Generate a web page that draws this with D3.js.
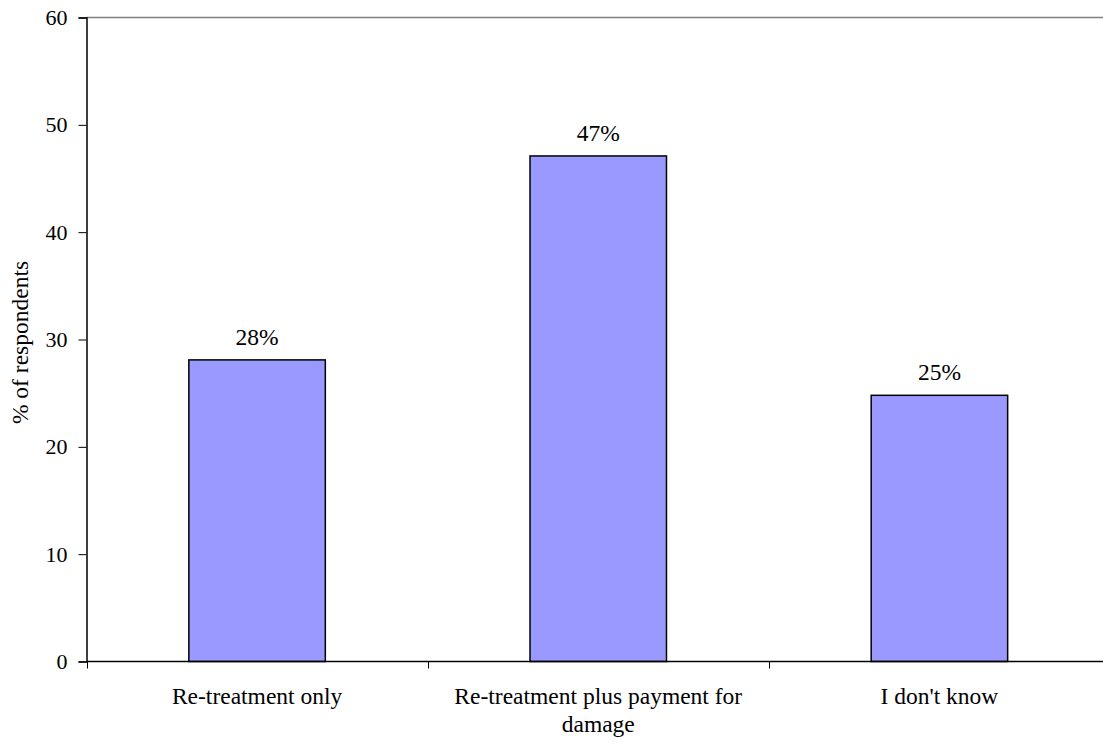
<!DOCTYPE html>
<html>
<head>
<meta charset="utf-8">
<script src="https://cdn.jsdelivr.net/npm/d3@7"></script>
<style>
  html, body { margin: 0; padding: 0; background: #fff; }
  svg text { font-family: "Liberation Serif", "Times New Roman", serif; fill: #000; }
</style>
</head>
<body>
<svg id="chart" width="1103" height="744" font-family="Liberation Serif, Times New Roman, serif"></svg>
<script>
// Survey answers and shares of respondents (%)
const categories = ["Re-treatment only", "Re-treatment plus payment for damage", "I don't know"];
const categoryLines = [["Re-treatment only"], ["Re-treatment plus payment for", "damage"], ["I don't know"]];
const values = [28.1, 47.1, 24.8];
const yTicks = [0, 10, 20, 30, 40, 50, 60];

const svg = d3.select("#chart");
const margin = { left: 86.5, top: 17.5, bottom: 661.5, right: 1110 };
const fontSize = 23.5;

const x = d3.scaleBand()
  .domain(categories)
  .range([margin.left, margin.right])
  .paddingInner(0.6)
  .paddingOuter(0.3);

const y = d3.scaleLinear().domain([0, 60]).range([margin.bottom, margin.top]);

// Plot frame top edge
svg.append("line")
  .attr("x1", margin.left).attr("x2", margin.right)
  .attr("y1", y(60)).attr("y2", y(60))
  .attr("stroke", "#808080").attr("stroke-width", 1.5);

// Bars
svg.selectAll("rect.bar")
  .data(values)
  .join("rect")
  .attr("class", "bar")
  .attr("x", (d, i) => x(categories[i]))
  .attr("width", x.bandwidth())
  .attr("y", d => y(d))
  .attr("height", d => y(0) - y(d))
  .attr("fill", "#9999FF")
  .attr("stroke", "#000")
  .attr("stroke-width", 1.5);

// Value labels
svg.selectAll("text.val")
  .data(values)
  .join("text")
  .attr("class", "val")
  .attr("x", (d, i) => x(categories[i]) + x.bandwidth() / 2)
  .attr("y", d => y(d) - 15)
  .attr("text-anchor", "middle")
  .attr("font-size", fontSize)
  .text(d => Math.round(d) + "%");

// Y axis
const yAxis = d3.axisLeft(y).tickValues(yTicks).tickSize(8).tickPadding(11);
const gy = svg.append("g").attr("transform", `translate(${margin.left},0)`).call(yAxis);
gy.attr("font-size", 22).attr("font-family", "Liberation Serif, Times New Roman, serif");
gy.select(".domain").attr("stroke", "#000").attr("stroke-width", 1.5);
gy.selectAll(".tick line").attr("stroke", "#000");
gy.selectAll(".tick text").attr("fill", "#000");

// X axis baseline with ticks at category boundaries
svg.append("line")
  .attr("x1", margin.left).attr("x2", margin.right)
  .attr("y1", y(0)).attr("y2", y(0))
  .attr("stroke", "#000").attr("stroke-width", 1.5);

const step = x.step();
const boundaries = d3.range(categories.length + 1).map(i => margin.left + i * step);
svg.selectAll("line.xtick")
  .data(boundaries)
  .join("line")
  .attr("class", "xtick")
  .attr("x1", d => Math.round(d) + 0.5).attr("x2", d => Math.round(d) + 0.5)
  .attr("y1", y(0)).attr("y2", y(0) + 7)
  .attr("stroke", "#000");

// Category labels
const xl = svg.selectAll("text.cat")
  .data(categoryLines)
  .join("text")
  .attr("class", "cat")
  .attr("text-anchor", "middle")
  .attr("font-size", fontSize)
  .attr("transform", (d, i) => `translate(${x(categories[i]) + x.bandwidth() / 2},${y(0) + 42})`);
xl.selectAll("tspan")
  .data(d => d)
  .join("tspan")
  .attr("x", 0)
  .attr("dy", (d, i) => i === 0 ? 0 : 28)
  .text(d => d);

// Y axis title
svg.append("text")
  .attr("transform", `translate(28,${(y(0) + y(60)) / 2 + 3}) rotate(-90)`)
  .attr("text-anchor", "middle")
  .attr("font-size", fontSize)
  .text("% of respondents");
</script>
</body>
</html>
